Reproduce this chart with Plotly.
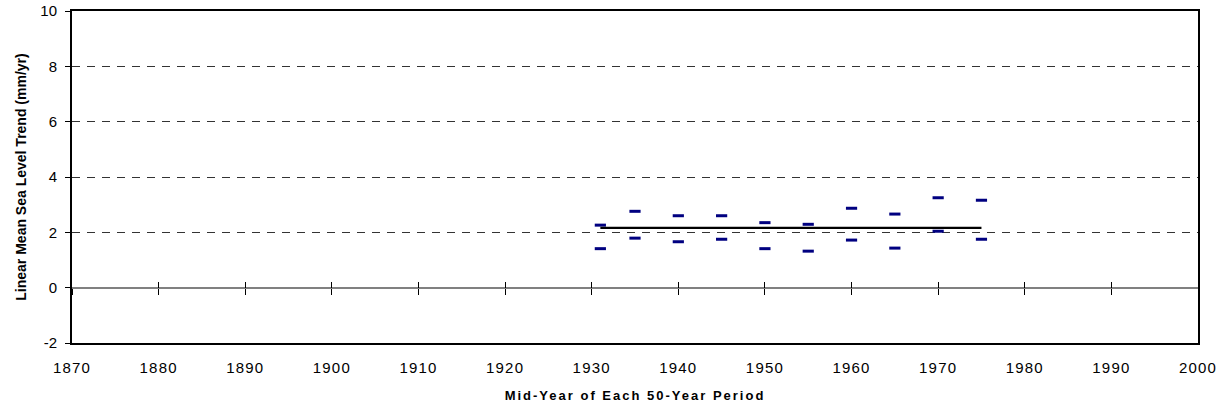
import plotly.graph_objects as go

# Mid-year of each 50-year period and the 95% confidence bounds of the linear trend
mid_years = [1931, 1935, 1940, 1945, 1950, 1955, 1960, 1965, 1970, 1975]
upper_ci = [2.26, 2.76, 2.60, 2.60, 2.35, 2.29, 2.87, 2.66, 3.25, 3.16]
lower_ci = [1.41, 1.79, 1.66, 1.75, 1.41, 1.32, 1.72, 1.43, 2.04, 1.75]

# Long-term trend over the full record
trend_years = [1931, 1975]
trend_value = [2.16, 2.16]

x_ticks = list(range(1870, 2001, 10))
y_ticks = list(range(-2, 11, 2))

FONT = "Liberation Sans, Arial, sans-serif"
NAVY = "#000080"


def spaced(s, px):
    return f'<span style="letter-spacing:{px}px">{s}</span>'


fig = go.Figure()

fig.add_trace(go.Scatter(
    x=trend_years, y=trend_value, mode="lines",
    line=dict(color="black", width=2.2),
    xaxis="x2", showlegend=False, hoverinfo="skip",
))
fig.add_trace(go.Scatter(
    x=mid_years, y=upper_ci, mode="markers",
    marker=dict(symbol="line-ew", size=8, line=dict(color=NAVY, width=3)),
    showlegend=False,
))
fig.add_trace(go.Scatter(
    x=mid_years, y=lower_ci, mode="markers",
    marker=dict(symbol="line-ew", size=8, line=dict(color=NAVY, width=3)),
    showlegend=False,
))
# carrier for the downward half of the zero-line tick marks
fig.add_trace(go.Scatter(x=[], y=[], xaxis="x3", showlegend=False))

fig.update_layout(
    width=1222, height=408,
    margin=dict(l=72, r=24, t=11, b=65, autoexpand=False),
    paper_bgcolor="white", plot_bgcolor="white",
    font=dict(family=FONT, size=14, color="black"),
    xaxis=dict(
        range=[1870, 2000], tickmode="array", tickvals=x_ticks,
        ticktext=[spaced(str(v), 1.2) for v in x_ticks],
        ticks="", showgrid=False, zeroline=False, automargin=False,
        showline=True, linecolor="black", linewidth=2, mirror=True,
        ticklabelstandoff=10,
        tickfont=dict(size=15),
        title=dict(text=spaced("<b>Mid-Year of Each 50-Year Period</b>", 2.0),
                   font=dict(size=13), standoff=16),
    ),
    # zero-line tick marks crossing the y=0 line
    xaxis2=dict(
        range=[1870, 2000], overlaying="x", anchor="free", position=1 / 6,
        tickmode="array", tickvals=x_ticks, ticks="inside", ticklen=6,
        tickwidth=1, tickcolor="black", showticklabels=False, automargin=False,
        showgrid=False, zeroline=False, showline=False,
    ),
    xaxis3=dict(
        range=[1870, 2000], overlaying="x", anchor="free", position=1 / 6,
        tickmode="array", tickvals=x_ticks, ticks="outside", ticklen=6,
        tickwidth=1, tickcolor="black", showticklabels=False, automargin=False,
        showgrid=False, zeroline=False, showline=False,
    ),
    yaxis=dict(
        range=[-2, 10], tickmode="array", tickvals=y_ticks,
        ticktext=[str(v) for v in y_ticks],
        ticks="outside", ticklen=5, tickwidth=1, tickcolor="black",
        showgrid=True, gridcolor="#333333", gridwidth=1, griddash="8px,7px",
        zeroline=True, zerolinecolor="#808080", zerolinewidth=1.5,
        showline=True, linecolor="black", linewidth=2, mirror=True,
        automargin=False, ticklabelstandoff=5,
        tickfont=dict(size=15),
        title=dict(text="<b>Linear Mean Sea Level Trend (mm/yr)</b>",
                   font=dict(size=14), standoff=10),
    ),
)

fig.write_html("out.html")
